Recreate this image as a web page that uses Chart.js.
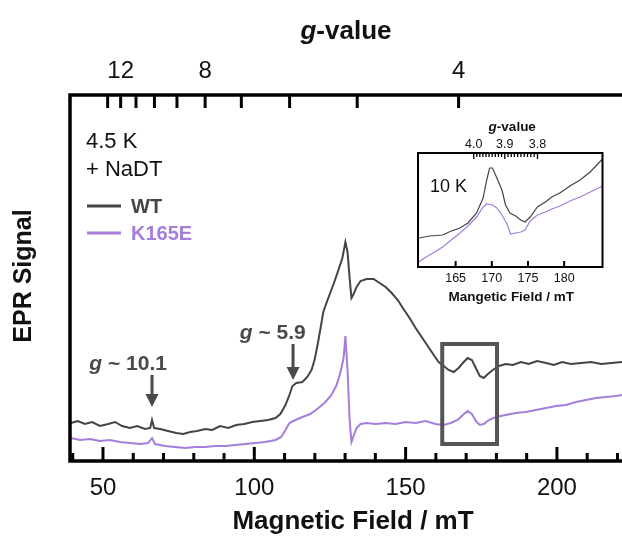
<!DOCTYPE html>
<html>
<head>
<meta charset="utf-8">
<script src="https://cdn.jsdelivr.net/npm/chart.js@4.4.1/dist/chart.umd.min.js"></script>
<style>
  body { margin: 0; background: #fff; }
  #wrap { position: relative; width: 622px; height: 538px; }
  #main { position: absolute; left: 0; top: 0; }
  #inset { position: absolute; left: 400px; top: 105px; }
</style>
</head>
<body>
<div id="wrap">
  <canvas id="main" width="622" height="538"></canvas>
  <canvas id="inset" width="215" height="205"></canvas>
</div>
<script>
// ---- DATA ----
const G_CONST = 670; // g * B (mT) for this spectrometer frequency

// main spectrum, 4.5 K
const wtField = [39.4, 41.7, 44.0, 46.4, 49.0, 51.7, 54.0, 56.3, 58.9, 61.3, 63.9, 65.6, 66.2, 66.9, 68.9, 71.5, 74.2, 76.5, 78.8, 81.1,
  83.8, 86.1, 88.7, 91.4, 94.0, 96.7, 99.3, 102.0, 104.6, 107.0, 108.6, 110.3, 111.6, 112.6, 113.9, 115.9, 117.5, 118.9, 119.9, 120.9,
  121.9, 122.8, 124.2, 126.2, 127.8, 129.1, 130.1, 130.8, 131.5, 132.1, 132.8, 133.8, 135.1, 137.1, 139.4, 141.4, 143.4, 145.4, 147.4, 149.3,
  151.3, 153.3, 155.3, 157.3, 159.3, 160.9, 162.6, 164.2, 165.9, 167.5, 169.2, 170.5, 171.9, 173.2, 174.5, 175.8, 177.2, 178.8, 180.8, 183.1,
  185.4, 188.1, 190.7, 193.4, 196.4, 199.0, 201.7, 204.6, 208.0, 211.3, 214.6, 217.9, 221.5];
const wtSignal = [38, 40, 37, 39, 35, 37, 39, 35, 33, 35, 32, 33, 41, 33, 32, 30, 28, 27, 29, 30,
  32, 31, 35, 33, 36, 37, 39, 40, 41, 43, 47, 56, 66, 75, 78, 79, 84, 91, 101, 116,
  133, 149, 161, 177, 191, 203, 219, 209, 183, 163, 167, 174, 180, 182, 182, 178, 174, 168, 161, 152,
  143, 133, 124, 115, 106, 99, 95, 91, 89, 93, 99, 103, 101, 93, 85, 83, 87, 91, 95, 97,
  96, 99, 97, 100, 98, 96, 99, 97, 98, 99, 97, 98, 99];

const k165eField = [39.4, 42.4, 45.7, 49.0, 52.3, 55.6, 58.9, 62.3, 64.9, 66.2, 67.2, 70.5, 73.8, 77.2, 80.5, 83.8, 87.1, 90.4, 93.7, 97.0,
  100.3, 103.6, 107.0, 108.9, 110.3, 111.6, 113.6, 115.9, 118.5, 121.2, 123.5, 125.5, 127.2, 128.5, 129.5, 130.1, 130.8, 131.5, 132.1, 132.8,
  133.8, 135.1, 137.1, 140.1, 143.4, 146.7, 150.0, 153.3, 156.6, 159.9, 162.6, 164.9, 167.2, 168.9, 170.5, 171.9, 173.2, 174.5, 175.8, 177.5,
  179.8, 183.1, 186.4, 189.7, 193.0, 196.4, 199.7, 203.0, 206.3, 209.6, 212.9, 216.2, 219.5, 221.5];
const k165eSignal = [23, 21, 22, 20, 21, 19, 18, 17, 18, 23, 17, 15, 14, 13, 14, 14, 15, 15, 16, 17,
  18, 19, 21, 24, 31, 38, 41, 44, 47, 53, 59, 66, 76, 89, 103, 125, 91, 41, 19, 25,
  33, 37, 38, 37, 38, 37, 39, 38, 40, 37, 36, 38, 41, 46, 50, 47, 40, 36, 37, 41,
  44, 46, 48, 49, 51, 53, 55, 56, 59, 61, 63, 64, 65, 66];

// inset spectrum, 10 K
const insetWtField = [159.9, 161.4, 163.2, 164.4, 165.6, 166.7, 167.9, 168.8, 169.3, 169.7, 170.1, 170.7, 171.4, 171.9, 172.5, 173.3,
  174.0, 174.6, 175.3, 176.3, 177.4, 178.3, 179.4, 180.8, 182.2, 183.6, 185.3];
const insetWtSignal = [29, 31, 32, 36, 39, 44, 54, 69, 87, 99, 99, 89, 77, 62, 54, 51, 47, 45, 50, 60, 65, 70, 74, 81, 87, 95, 108];
const insetK165eField = [159.9, 160.7, 162.1, 163.2, 164.4, 165.6, 166.7, 167.9, 168.8, 169.3, 170.1, 170.7, 171.4, 172.1, 172.6, 173.3,
  174.0, 174.6, 175.3, 176.3, 177.4, 178.3, 179.4, 180.8, 182.2, 183.6, 185.3];
const insetK165eSignal = [5, 9, 15, 20, 27, 34, 41, 50, 60, 63, 62, 59, 52, 43, 33, 34, 35, 37, 46, 52, 55, 58, 61, 66, 70, 75, 81];

// axes
const fieldTicks = [40, 50, 60, 70, 80, 90, 100, 110, 120, 130, 140, 150, 160, 170, 180, 190, 200, 210, 220];
const fieldLabels = [50, 100, 150, 200];
const gTicks = [13, 12, 11, 10, 9, 8, 7, 6, 5, 4];
const gLabels = [12, 8, 4];
const insetFieldTicks = [165, 170, 175, 180];
const insetGTicks = [4.00, 3.99, 3.98, 3.97, 3.96, 3.95, 3.94, 3.93, 3.92, 3.91, 3.90, 3.89, 3.88, 3.87, 3.86, 3.85,
  3.84, 3.83, 3.82, 3.81, 3.80];
const insetGLabels = [4.0, 3.9, 3.8];

// ---- STYLE ----
const FONT = "'Liberation Sans', Arial, Helvetica, sans-serif";
const WT_COLOR = '#444444';
const K165E_COLOR = '#a57ddc';
const NOTE_COLOR = '#4a4a4a';

function toPoints(fields, signals) {
  return fields.map((f, i) => ({ x: f, y: signals[i] }));
}

// draw text made of several font runs (italic g + bold rest)
function drawRuns(ctx, runs, x, y, align) {
  let total = 0;
  runs.forEach(r => { ctx.font = r.font; r.w = ctx.measureText(r.text).width; total += r.w; });
  let cx = align === 'center' ? x - total / 2 : x;
  ctx.textAlign = 'left';
  runs.forEach(r => { ctx.font = r.font; ctx.fillText(r.text, cx, y); cx += r.w; });
}

function gRuns(size, rest) {
  return [
    { text: 'g', font: `italic bold ${size}px ${FONT}` },
    { text: rest, font: `bold ${size}px ${FONT}` }
  ];
}

function line(ctx, x1, y1, x2, y2) {
  ctx.beginPath(); ctx.moveTo(x1, y1); ctx.lineTo(x2, y2); ctx.stroke();
}

// vertical down arrow, tip at yTip
function drawArrow(ctx, x, yTail, yTip) {
  const head = 13, half = 6.5;
  ctx.strokeStyle = NOTE_COLOR; ctx.fillStyle = NOTE_COLOR; ctx.lineWidth = 3;
  line(ctx, x, yTail, x, yTip - head + 1);
  ctx.beginPath();
  ctx.moveTo(x - half, yTip - head); ctx.lineTo(x + half, yTip - head); ctx.lineTo(x, yTip);
  ctx.closePath(); ctx.fill();
}

// keep the plot area fixed: no automatic label padding on horizontal axes
function fixHeight(h) {
  return s => { s.height = h; s.paddingLeft = 0; s.paddingRight = 0; };
}

// annotations in data coordinates
const notes = [
  { label: ' ~ 10.1', textField: 58.3, textSignal: 91, arrowField: 66.2, tail: 86, tip: 54 },
  { label: ' ~ 5.9', textField: 106.1, textSignal: 122, arrowField: 112.8, tail: 117, tip: 81 }
];
const boxField = [162.1, 180.2];
const boxSignal = [17, 117];

// ---- MAIN CHART ----
const mainDecor = {
  id: 'mainDecor',
  afterDraw(chart) {
    const { ctx, chartArea: a, scales } = chart;
    const xs = scales.x, gs = scales.g, ys = scales.y;
    ctx.save();
    ctx.lineCap = 'butt';

    // inward tick marks
    ctx.strokeStyle = '#000'; ctx.lineWidth = 3;
    fieldTicks.forEach(v => {
      const px = xs.getPixelForValue(v);
      const len = fieldLabels.includes(v) ? 14 : 8;
      line(ctx, px, a.bottom, px, a.bottom - len);
    });
    gTicks.forEach(gv => {
      const px = gs.getPixelForValue(G_CONST / gv);
      line(ctx, px, a.top, px, a.top + 13);
    });

    // frame: top, left, bottom
    ctx.lineWidth = 3.5; ctx.lineJoin = 'miter'; ctx.lineCap = 'square';
    ctx.beginPath();
    ctx.moveTo(a.right + 2, a.top); ctx.lineTo(a.left, a.top);
    ctx.lineTo(a.left, a.bottom); ctx.lineTo(a.right + 2, a.bottom);
    ctx.stroke();
    ctx.lineCap = 'butt';

    // highlight box
    const bx1 = xs.getPixelForValue(boxField[0]), bx2 = xs.getPixelForValue(boxField[1]);
    const by1 = ys.getPixelForValue(boxSignal[1]), by2 = ys.getPixelForValue(boxSignal[0]);
    ctx.strokeStyle = '#555'; ctx.lineWidth = 4;
    ctx.strokeRect(bx1, by1, bx2 - bx1, by2 - by1);

    // g annotations with arrows
    ctx.fillStyle = NOTE_COLOR; ctx.textBaseline = 'alphabetic';
    notes.forEach(n => {
      drawRuns(ctx, gRuns(21, n.label), xs.getPixelForValue(n.textField), ys.getPixelForValue(n.textSignal), 'center');
      drawArrow(ctx, xs.getPixelForValue(n.arrowField), ys.getPixelForValue(n.tail), ys.getPixelForValue(n.tip));
    });

    // legend block
    const lx = a.left + 16;
    ctx.fillStyle = '#111';
    ctx.font = `22px ${FONT}`;
    ctx.fillText('4.5 K', lx, a.top + 53);
    ctx.fillText('+ NaDT', lx, a.top + 81);
    ctx.lineWidth = 3;
    ctx.strokeStyle = WT_COLOR; line(ctx, lx + 1, a.top + 111, lx + 35, a.top + 111);
    ctx.strokeStyle = K165E_COLOR; line(ctx, lx + 1, a.top + 138, lx + 35, a.top + 138);
    ctx.font = `bold 20px ${FONT}`;
    ctx.fillStyle = WT_COLOR; ctx.fillText('WT', lx + 45, a.top + 118);
    ctx.fillStyle = K165E_COLOR; ctx.fillText('K165E', lx + 45, a.top + 145);

    // axis titles
    const midX = (a.left + a.right) / 2;
    ctx.fillStyle = '#111';
    drawRuns(ctx, gRuns(26, '-value'), midX, a.top - 56, 'center');
    ctx.font = `bold 26px ${FONT}`; ctx.textAlign = 'center';
    ctx.fillText('Magnetic Field / mT', midX + 7, a.bottom + 68);
    ctx.save();
    ctx.translate(a.left - 39, (a.top + a.bottom) / 2 - 2);
    ctx.rotate(-Math.PI / 2);
    ctx.font = `bold 25px ${FONT}`; ctx.textAlign = 'center';
    ctx.fillText('EPR Signal', 0, 0);
    ctx.restore();

    ctx.restore();
  }
};

new Chart(document.getElementById('main').getContext('2d'), {
  type: 'line',
  data: {
    datasets: [
      { label: 'WT', data: toPoints(wtField, wtSignal), borderColor: WT_COLOR, borderWidth: 2, pointRadius: 0, tension: 0 },
      { label: 'K165E', data: toPoints(k165eField, k165eSignal), borderColor: K165E_COLOR, borderWidth: 2, pointRadius: 0, tension: 0 }
    ]
  },
  options: {
    responsive: false,
    animation: false,
    layout: { padding: 0 },
    plugins: { legend: { display: false }, tooltip: { enabled: false } },
    scales: {
      x: {
        type: 'linear', position: 'bottom', min: 39.1, max: 221.5,
        afterBuildTicks: axis => { axis.ticks = fieldTicks.map(v => ({ value: v })); },
        afterFit: fixHeight(77),
        ticks: {
          autoSkip: false, maxRotation: 0, padding: 13, color: '#111',
          font: { family: FONT, size: 24 },
          callback: v => fieldLabels.includes(v) ? String(v) : ''
        },
        grid: { display: false, drawTicks: false }, border: { display: false }
      },
      g: {
        type: 'linear', axis: 'x', position: 'top', min: 39.1, max: 221.5,
        afterBuildTicks: axis => { axis.ticks = gTicks.map(gv => ({ value: G_CONST / gv })); },
        afterFit: fixHeight(95),
        ticks: {
          autoSkip: false, maxRotation: 0, padding: 9, color: '#111',
          font: { family: FONT, size: 24 },
          callback: (v, i) => gLabels.includes(gTicks[i]) ? String(gTicks[i]) : ''
        },
        grid: { display: false, drawTicks: false }, border: { display: false }
      },
      y: {
        min: 0, max: 366,
        afterFit: s => { s.width = 70; },
        ticks: { display: false },
        grid: { display: false, drawTicks: false }, border: { display: false }
      }
    }
  },
  plugins: [mainDecor]
});

// ---- INSET CHART ----
const insetDecor = {
  id: 'insetDecor',
  afterDraw(chart) {
    const { ctx, chartArea: a, scales } = chart;
    const xs = scales.x, gs = scales.g;
    ctx.save();
    ctx.strokeStyle = '#000';
    ctx.lineWidth = 1.3;
    insetGTicks.forEach(gv => {
      const px = gs.getPixelForValue(G_CONST / gv);
      const len = insetGLabels.includes(gv) ? 6 : 4;
      line(ctx, px, a.top, px, a.top + len);
    });
    ctx.lineWidth = 2;
    insetFieldTicks.forEach(v => {
      const px = xs.getPixelForValue(v);
      line(ctx, px, a.bottom, px, a.bottom - 6);
    });
    ctx.strokeRect(a.left, a.top, a.right - a.left, a.bottom - a.top);

    const midX = (a.left + a.right) / 2;
    ctx.fillStyle = '#111'; ctx.textBaseline = 'middle';
    drawRuns(ctx, gRuns(13.5, '-value'), midX + 2, a.top - 26, 'center');
    ctx.font = `bold 13.5px ${FONT}`; ctx.textAlign = 'center';
    ctx.fillText('Mangetic Field / mT', midX + 1, a.bottom + 30);
    ctx.textAlign = 'left'; ctx.textBaseline = 'alphabetic';
    ctx.font = `18px ${FONT}`;
    ctx.fillText('10 K', a.left + 12, a.top + 39);
    ctx.restore();
  }
};

new Chart(document.getElementById('inset').getContext('2d'), {
  type: 'line',
  data: {
    datasets: [
      { label: 'WT', data: toPoints(insetWtField, insetWtSignal), borderColor: WT_COLOR, borderWidth: 1.2, pointRadius: 0, tension: 0 },
      { label: 'K165E', data: toPoints(insetK165eField, insetK165eSignal), borderColor: K165E_COLOR, borderWidth: 1.2, pointRadius: 0, tension: 0 }
    ]
  },
  options: {
    responsive: false,
    animation: false,
    layout: { padding: { right: 12.5, left: 0, top: 0, bottom: 0 } },
    plugins: { legend: { display: false }, tooltip: { enabled: false } },
    scales: {
      x: {
        type: 'linear', position: 'bottom', min: 159.8, max: 185.3,
        afterBuildTicks: axis => { axis.ticks = insetFieldTicks.map(v => ({ value: v })); },
        afterFit: fixHeight(43),
        ticks: { autoSkip: false, maxRotation: 0, padding: 4, color: '#111', font: { family: FONT, size: 12.5 } },
        grid: { display: false, drawTicks: false }, border: { display: false }
      },
      g: {
        type: 'linear', axis: 'x', position: 'top', min: 159.8, max: 185.3,
        afterBuildTicks: axis => { axis.ticks = insetGTicks.map(gv => ({ value: G_CONST / gv })); },
        afterFit: fixHeight(48),
        ticks: {
          autoSkip: false, maxRotation: 0, padding: 1, color: '#111', font: { family: FONT, size: 12.5 },
          callback: (v, i) => insetGLabels.includes(insetGTicks[i]) ? insetGTicks[i].toFixed(1) : ''
        },
        grid: { display: false, drawTicks: false }, border: { display: false }
      },
      y: {
        min: 0, max: 114,
        afterFit: s => { s.width = 18; },
        ticks: { display: false },
        grid: { display: false, drawTicks: false }, border: { display: false }
      }
    }
  },
  plugins: [insetDecor]
});
</script>
</body>
</html>
